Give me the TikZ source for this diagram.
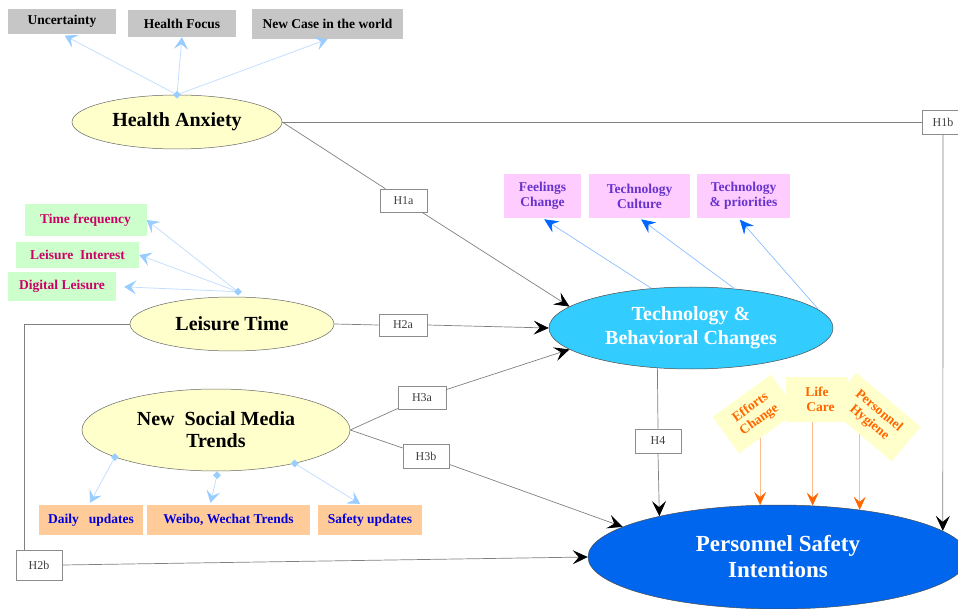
\documentclass[tikz,border=0pt]{standalone}
\usepackage{fontspec}
\setmainfont{Liberation Serif}
\usetikzlibrary{arrows.meta,shapes.geometric,calc,backgrounds}
\definecolor{grayfill}{HTML}{C6C6C6}
\definecolor{ellfill}{HTML}{FFFFCC}
\definecolor{greenfill}{HTML}{CCFFCC}
\definecolor{greentext}{HTML}{CC0066}
\definecolor{pinkfill}{HTML}{FFCCFF}
\definecolor{pinktext}{HTML}{6633CC}
\definecolor{orfill}{HTML}{FFCC99}
\definecolor{ortext}{HTML}{0000DD}
\definecolor{yeltext}{HTML}{FF6600}
\definecolor{tbcfill}{HTML}{33CCFF}
\definecolor{psifill}{HTML}{0066EE}
\definecolor{lbline}{HTML}{C4DEFF}
\definecolor{lbtip}{HTML}{99CCFF}
\definecolor{blline}{HTML}{8CBDFF}
\definecolor{bltip}{HTML}{0066FF}
\definecolor{orline}{HTML}{FFBB88}
\definecolor{ortip}{HTML}{FF6600}
\begin{document}
\begin{tikzpicture}[x=1pt,y=-1pt,
  ell/.style={ellipse, draw=black!60, line width=0.5pt, fill=ellfill, inner sep=0pt,
    align=center, font=\bfseries\fontsize{20}{22}\selectfont},
  boxbase/.style={rectangle, inner sep=0pt, align=center,
    font=\bfseries\fontsize{13.5}{15}\selectfont},
  graybox/.style={boxbase, fill=grayfill},
  greenbox/.style={boxbase, fill=greenfill, text=greentext},
  pinkbox/.style={boxbase, fill=pinkfill, text=pinktext},
  orbox/.style={boxbase, fill=orfill, text=ortext},
  yelbox/.style={boxbase, fill=ellfill, text=yeltext},
  hbox/.style={rectangle, draw=black!45, fill=white, line width=0.6pt, inner sep=0pt,
    text=black!75, font=\fontsize{12}{14}\selectfont},
  conn/.style={draw=black!50, line width=0.7pt},
  blackarrow/.style={conn, -{Stealth[length=15pt,width=14pt,inset=6pt,color=black]}},
  lbarrow/.style={draw=lbline, line width=0.8pt, -{Stealth[length=12pt,width=14pt,inset=5pt,color=lbtip]}},
  blarrow/.style={draw=blline, line width=0.7pt, -{Stealth[length=14pt,width=13pt,inset=5pt,color=bltip]}},
  orarrow/.style={draw=orline, line width=0.8pt, -{Stealth[length=13pt,width=12pt,inset=5pt,color=ortip]}},
  blob/.style={diamond, fill=lbtip, inner sep=0pt, minimum size=8pt}
]
\useasboundingbox (0,0) rectangle (958,609);

% top gray boxes
\node[graybox, minimum width=108pt, minimum height=25pt] (UN) at (62,21.5) {Uncertainty};
\node[graybox, minimum width=108pt, minimum height=27pt] (HF) at (182,23.5) {Health Focus};
\node[graybox, minimum width=151pt, minimum height=30pt] (NC) at (327.5,24) {New Case in the world};

% ellipses
\node[ell, minimum width=210pt, minimum height=54pt] (HA) at (177,122) {Health Anxiety};
\node[ell, minimum width=204pt, minimum height=54pt] (LT) at (232,324) {Leisure Time};
\node[ell, minimum width=268pt, minimum height=82pt] (NSMT) at (216,430) {New\ \ Social Media\\Trends};
\node[ell, draw=black!70, fill=tbcfill, text=white, minimum width=284pt, minimum height=82pt,
  font=\bfseries\fontsize{20}{24}\selectfont] (TBC) at (691,328) {Technology \&\\Behavioral Changes};
\node[ell, draw=black!70, fill=psifill, text=white, minimum width=380pt, minimum height=104pt,
  font=\bfseries\fontsize{23}{26}\selectfont] (PSI) at (778,557) {Personnel Safety\\Intentions};

% green boxes
\node[greenbox, minimum width=122pt, minimum height=32pt] (TF) at (85.5,220) {Time frequency};
\node[greenbox, minimum width=123pt, minimum height=26pt] (LI) at (77.5,255) {Leisure\ \ Interest};
\node[greenbox, minimum width=108pt, minimum height=29pt] (DL) at (62,286.5) {Digital Leisure};

% orange boxes
\node[orbox, minimum width=104pt, minimum height=30pt] (DU) at (91,520) {Daily\ \ \ updates};
\node[orbox, minimum width=163pt, minimum height=30pt] (WW) at (228.5,520) {Weibo, Wechat Trends};
\node[orbox, minimum width=104pt, minimum height=30pt] (SU) at (370,520) {Safety updates};

% pink boxes
\node[pinkbox, minimum width=77pt, minimum height=44pt] (FC) at (542.5,196) {Feelings\\Change};
\node[pinkbox, minimum width=101pt, minimum height=44pt] (TC) at (639.5,196) {Technology\\Culture};
\node[pinkbox, minimum width=93pt, minimum height=44pt] (TP) at (743.5,196) {Technology\\\& priorities};

% yellow rotated boxes
\node[yelbox, rotate=36, minimum width=72pt, minimum height=45pt] (EC) at (755,414) {Efforts\\Change};
\node[yelbox, rotate=-40, minimum width=84pt, minimum height=45pt] (PH) at (874,417) {Personnel\\Hygiene};
\node[yelbox, minimum width=62pt, minimum height=45pt] (LC) at (817,399.5) {Life\\\ \ Care};

% hypothesis labels
\node[hbox, minimum width=47pt, minimum height=23pt] (H1a) at (403.5,200.5) {H1a};
\node[hbox, minimum width=42pt, minimum height=24pt] (H1b) at (943,122) {H1b};
\node[hbox, minimum width=48pt, minimum height=22pt] (H2a) at (403,325) {H2a};
\node[hbox, minimum width=46pt, minimum height=30pt] (H2b) at (39,565) {H2b};
\node[hbox, minimum width=48pt, minimum height=23pt] (H3a) at (422,397.5) {H3a};
\node[hbox, minimum width=46pt, minimum height=24pt] (H3b) at (426,456) {H3b};
\node[hbox, minimum width=46pt, minimum height=24pt] (H4) at (658,441) {H4};

% blobs
\node[blob] (hab) at (HA.north) {};
\node[blob] (ltb) at ($(LT.north)+(6,-5)$) {};
\node[blob] (nb1) at (NSMT.195) {};
\node[blob] (nb2) at ($(NSMT.south)+(1,4)$) {};
\node[blob] (nb3) at (NSMT.-23) {};
\coordinate (c2b) at (24,324);

% light blue arrows
\draw[lbarrow, shorten >=3pt] (hab) -- (UN.south);
\draw[lbarrow] (hab) -- (HF.south);
\draw[lbarrow] (hab) -- (NC.south);
\draw[lbarrow] (ltb) -- (TF.east);
\draw[lbarrow] (ltb) -- (LI.east);
\draw[lbarrow, shorten >=8pt] (ltb) -- (DL.east);
\draw[lbarrow] (nb1) -- ($(DU.north)+(-1,-2)$);
\draw[lbarrow] (nb2) -- ($(WW.north)+(-18,-2)$);
\draw[lbarrow] (nb3) -- ($(SU.north)+(-10,-1)$);

% blue arrows
\draw[blarrow, shorten >=2pt] (TBC.135) -- (FC.south);
\draw[blarrow, shorten >=2pt] (TBC.42) -- (TC.south);
\draw[blarrow, shorten >=2pt] (TBC.8.5) -- ($(TP.south)+(-5,0)$);

% hypotheses connectors
\draw[conn] (HA.east) -- (H1b.west);
\draw[blackarrow] (H1b.south) -- (PSI.9);
\draw[conn] (HA.east) -- (H1a);
\draw[blackarrow] (H1a) -- (TBC.170);
\draw[conn] (LT.east) -- (H2a.west);
\draw[blackarrow] (H2a.east) -- (TBC.west);
\draw[conn] (LT.west) -- (c2b) -- (c2b |- H2b.north);
\draw[blackarrow] (H2b.east) -- (PSI.west);
\draw[conn] (NSMT.east) -- (H3a);
\draw[blackarrow] (H3a) -- (TBC.190);
\draw[conn] (NSMT.east) -- (H3b);
\draw[blackarrow] (H3b) -- (PSI.169);
\draw[conn] (TBC.230.5) -- (H4.north);
\draw[blackarrow] (H4.south) -- (PSI.161.4);

% orange arrows (behind the yellow boxes)
\begin{pgfonlayer}{background}
\draw[orarrow] (PSI.109 |- EC.center) -- (PSI.109);
\draw[orarrow] (PSI.56 |- LC.center) -- (PSI.56);
\draw[orarrow] (PSI.30 |- PH.center) -- (PSI.30);
\end{pgfonlayer}
\end{tikzpicture}
\end{document}
